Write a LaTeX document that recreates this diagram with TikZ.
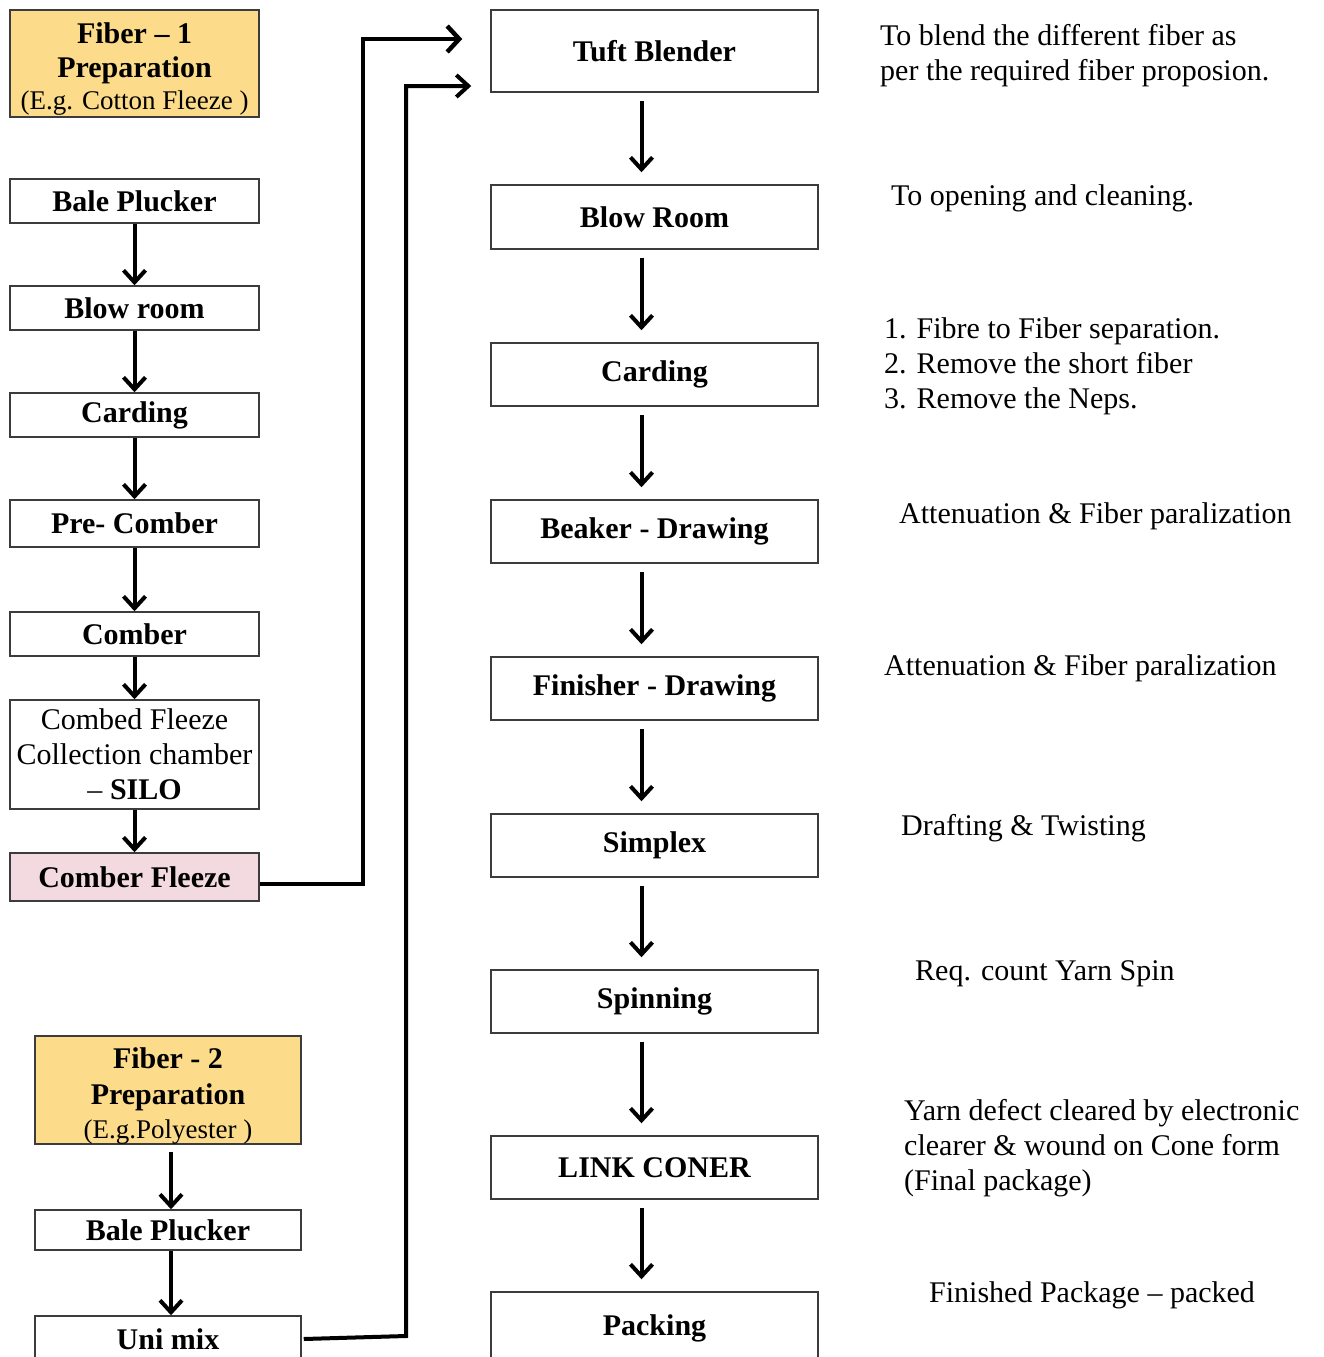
\documentclass[tikz,border=0pt]{standalone}
\usepackage{fontspec}
\setmainfont{Liberation Serif}
\usetikzlibrary{arrows.meta}
\definecolor{fibyellow}{RGB}{252,220,138}
\definecolor{fibpink}{RGB}{242,218,224}
\definecolor{boxline}{RGB}{60,60,60}
\begin{document}
\begin{tikzpicture}[x=1pt,y=-1pt,
  every node/.style={font=\fontsize{30}{35}\selectfont},
  lbox/.style={draw=boxline, line width=1.5pt, minimum width=249pt, inner sep=0pt, align=center},
  mbox/.style={draw=boxline, line width=1.5pt, minimum width=327pt, minimum height=63pt, inner sep=0pt, align=center, font=\fontsize{30}{35}\selectfont\bfseries},
  flow/.style={line width=4pt, -{Straight Barb[length=12pt,width=22pt]}},
  link/.style={line width=4.5pt, -{Straight Barb[length=12pt,width=26pt]}},
  note/.style={anchor=base west, align=left, inner sep=0pt}]
\useasboundingbox (0,0) rectangle (1324,1357);
\fill[white] (0,0) rectangle (1324,1357);

% left column, fiber 1
\node[lbox, fill=fibyellow, minimum height=107pt] (f1) at (134.5,63.5)
  {\rule{0pt}{31pt}\textbf{Fiber – 1}\\[-1pt]\textbf{Preparation}\\[-3pt]{\fontsize{27}{33}\selectfont (E.g. Cotton Fleeze )}};
\node[lbox, minimum height=44pt, font=\fontsize{30}{35}\selectfont\bfseries] (bp1) at (134.5,201) {Bale Plucker};
\node[lbox, minimum height=44pt, font=\fontsize{30}{35}\selectfont\bfseries] (br1) at (134.5,308) {Blow room};
\node[lbox, minimum height=44pt, font=\fontsize{30}{35}\selectfont\bfseries] (cd1) at (134.5,415) {Carding};
\node[lbox, minimum height=47pt, font=\fontsize{30}{35}\selectfont\bfseries] (pc1) at (134.5,523.5) {Pre- Comber};
\node[lbox, minimum height=44pt, font=\fontsize{30}{35}\selectfont\bfseries] (cb1) at (134.5,634) {Comber};
\node[lbox, minimum height=109pt] (silo) at (134.5,754.5)
  {Combed Fleeze\\Collection chamber\\– \textbf{SILO}};
\node[lbox, fill=fibpink, minimum height=48pt, font=\fontsize{30}{35}\selectfont\bfseries] (cf) at (134.5,877) {Comber Fleeze};

% left column, fiber 2
\node[lbox, fill=fibyellow, minimum width=266pt, minimum height=106pt] (f2) at (168,1090)
  {\rule{0pt}{32pt}\textbf{Fiber - 2}\\[1pt]\textbf{Preparation}\\[-1pt]{\fontsize{27}{33}\selectfont (E.g.Polyester )}};
\node[lbox, minimum width=266pt, minimum height=40pt, font=\fontsize{30}{35}\selectfont\bfseries] (bp2) at (168,1230) {Bale Plucker};
\node[lbox, minimum width=266pt, minimum height=46pt, font=\fontsize{30}{35}\selectfont\bfseries] (uni) at (168,1339) {Uni mix};

% middle column
\node[mbox, minimum height=82pt] (tuft) at (654.5,51) {Tuft Blender};
\node[mbox, minimum height=64pt] (blow) at (654.5,217) {Blow Room};
\node[mbox] (card) at (654.5,374.5) {Carding};
\node[mbox] (beak) at (654.5,531.5) {Beaker - Drawing};
\node[mbox] (fini) at (654.5,688.5) {Finisher - Drawing};
\node[mbox] (simp) at (654.5,845.5) {Simplex};
\node[mbox] (spin) at (654.5,1001.5) {Spinning};
\node[mbox] (cone) at (654.5,1167.5) {LINK CONER};
\node[mbox, minimum height=72pt] (pack) at (654.5,1328) {Packing};

% right notes (base = baseline of last line)
\node[note] (n1) at (880,80) {To blend the different fiber as\\per the required fiber proposion.};
\node[note] (n2) at (891,205) {To opening and cleaning.};
\node[note] (n3) at (884,408) {1. Fibre to Fiber separation.\\2. Remove the short fiber\\3. Remove the Neps.};
\node[note] (n4) at (899,523) {Attenuation \& Fiber paralization};
\node[note] (n5) at (884,675) {Attenuation \& Fiber paralization};
\node[note] (n6) at (901,835) {Drafting \& Twisting};
\node[note] (n7) at (915,980) {Req. count Yarn Spin};
\node[note] (n8) at (904,1190) {Yarn defect cleared by electronic\\clearer \& wound on Cone form\\(Final package)};
\node[note] (n9) at (929,1302) {Finished Package – packed};

% left arrows
\draw[flow] (bp1) -- (br1);
\draw[flow] (br1) -- (cd1);
\draw[flow] (cd1) -- (pc1);
\draw[flow] (pc1) -- (cb1);
\draw[flow] (cb1) -- (silo);
\draw[flow] (silo) -- (cf);
\draw[flow, shorten <=7pt] ([xshift=3pt]f2.south) -- ([xshift=3pt]bp2.north);
\draw[flow] ([xshift=3pt]bp2.south) -- ([xshift=3pt]uni.north);

% middle arrows
\foreach \a/\b in {tuft/blow, blow/card, card/beak, beak/fini, fini/simp, simp/spin, spin/cone, cone/pack}
  \draw[flow, shorten <=8pt, shorten >=12pt] ([xshift=-13pt]\a.south) -- ([xshift=-13pt]\b.north);

% long connectors
\coordinate (j1a) at (363,884);
\coordinate (j1b) at (363,39);
\draw[link, shorten >=28pt] ([yshift=-7pt]cf.east) -- (j1a) -- (j1b) -- ([yshift=12pt]tuft.west);
\coordinate (j2a) at (406,1336);
\coordinate (j2b) at (406,86);
\draw[flow, shorten >=19pt] ([xshift=2pt]uni.east) -- (j2a) -- (j2b) -- ([yshift=-35pt]tuft.west);
\end{tikzpicture}
\end{document}
